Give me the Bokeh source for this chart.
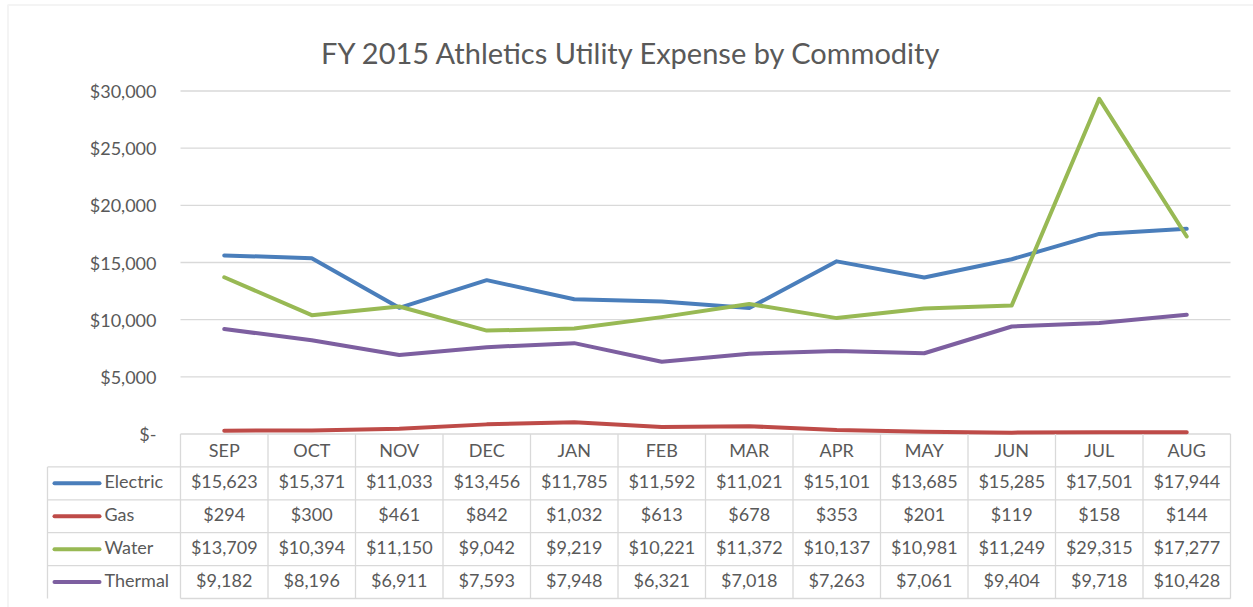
from bokeh.plotting import figure
from bokeh.models import (Range1d, LinearAxis, FixedTicker, BoxAnnotation)
from bokeh.core.properties import value
from bokeh.embed import file_html
from bokeh.resources import INLINE

# ---------------- data ----------------
title = "FY 2015 Athletics Utility Expense by Commodity"
months = ["SEP", "OCT", "NOV", "DEC", "JAN", "FEB", "MAR", "APR", "MAY", "JUN", "JUL", "AUG"]
series_names = ["Electric", "Gas", "Water", "Thermal"]
electric = [15623, 15371, 11033, 13456, 11785, 11592, 11021, 15101, 13685, 15285, 17501, 17944]
gas = [294, 300, 461, 842, 1032, 613, 678, 353, 201, 119, 158, 144]
water = [13709, 10394, 11150, 9042, 9219, 10221, 11372, 10137, 10981, 11249, 29315, 17277]
thermal = [9182, 8196, 6911, 7593, 7948, 6321, 7018, 7263, 7061, 9404, 9718, 10428]
y_ticks = [0, 5000, 10000, 15000, 20000, 25000, 30000]

series = [electric, gas, water, thermal]
colors = ["#4A7EBB", "#BE4B48", "#98B954", "#7D5FA0"]

# ---------------- layout constants (pixels) ----------------
W, H = 1253, 607
COL0_PX, COL_W = 180.0, 87.5          # left edge of first month column, column width
Y0_PX, YTOP_PX = 433.5, 90.5          # pixel rows of $0 and of the top tick
ROW_H = 32.9                          # table row height
LEG_LEFT_PX = 47.0                    # left edge of the table's legend column
TEXT = "#595959"
GRID = "#D9D9D9"
FONT = "Lato"

def px2x(px):
    return (px - COL0_PX) / COL_W - 0.5

def py2y(py):
    return (Y0_PX - py) * y_ticks[-1] / (Y0_PX - YTOP_PX)

def py2r(py):
    return (py - Y0_PX) / ROW_H

n = len(months)
idx = list(range(n))

p = figure(width=W, height=H, output_backend="svg", toolbar_location=None,
           x_axis_location=None, y_axis_location=None,
           x_range=Range1d(px2x(0), px2x(W)), y_range=Range1d(py2y(H), py2y(0)),
           min_border=0, min_border_left=0, min_border_right=0,
           min_border_top=0, min_border_bottom=0)
p.extra_y_ranges = {"table": Range1d(start=py2r(H), end=py2r(0))}
p.outline_line_color = None
p.background_fill_color = "white"
p.border_fill_color = "white"
p.xgrid.visible = False
p.ygrid.visible = False

# outer chart border
p.add_layout(BoxAnnotation(left=px2x(7.5), top=py2y(4.5), right=px2x(W + 10), bottom=py2y(H + 10),
                           fill_alpha=0, line_color=GRID, line_width=2, level="underlay"))

# gridlines from ticks
x_lo, x_hi = -0.5, n - 0.5
p.segment(x0=[x_lo] * len(y_ticks), x1=[x_hi] * len(y_ticks), y0=y_ticks, y1=y_ticks,
          line_color=GRID, line_width=1.3)

# y axis
yax = LinearAxis(ticker=FixedTicker(ticks=y_ticks), fixed_location=x_lo,
                 major_label_overrides={t: ("$-" if t == 0 else f"${t:,}") for t in y_ticks})
yax.axis_line_color = None
yax.major_tick_line_color = None
yax.minor_tick_line_color = None
yax.major_tick_out = 0
yax.major_label_standoff = 24
yax.major_label_text_font = FONT
yax.major_label_text_font_size = "18px"
yax.major_label_text_color = TEXT
p.add_layout(yax, "left")

# month axis (table header)
xax = LinearAxis(ticker=FixedTicker(ticks=idx), fixed_location=0,
                 major_label_overrides={i: m for i, m in zip(idx, months)})
xax.axis_line_color = None
xax.major_tick_line_color = None
xax.minor_tick_line_color = None
xax.major_tick_out = 0
xax.major_label_standoff = 5
xax.major_label_text_font = FONT
xax.major_label_text_font_size = "18px"
xax.major_label_text_color = TEXT
p.add_layout(xax, "below")

# lines
for name, vals, col in zip(series_names, series, colors):
    p.line(idx, vals, line_color=col, line_width=4, line_cap="round", line_join="round")

# table grid
nrows = len(series_names)
leg_x = px2x(LEG_LEFT_PX)
hx0 = [leg_x] * nrows + [x_lo]
hx1 = [x_hi] * (nrows + 1)
hy = [r + 1 for r in range(nrows)] + [nrows + 1]
p.segment(x0=hx0, x1=hx1, y0=hy, y1=hy, line_color=GRID, line_width=1.3, y_range_name="table")
vx = [x_lo + j for j in range(n + 1)] + [leg_x]
vy0 = [0] * (n + 1) + [1]
vy1 = [nrows + 1] * (n + 2)
p.segment(x0=vx, x1=vx, y0=vy0, y1=vy1, line_color=GRID, line_width=1.3, y_range_name="table")

# table values
tx, ty, tt = [], [], []
for r, vals in enumerate(series):
    for i, v in enumerate(vals):
        tx.append(i)
        ty.append(r + 1.5)
        tt.append(f"${v:,}")
p.text(x=tx, y=ty, text=tt, text_align="center", text_baseline="middle", y_offset=-2,
       text_font=value(FONT), text_font_size="18px", text_color=TEXT, y_range_name="table")

# legend keys + names in the table
rows_c = [r + 1.5 for r in range(nrows)]
p.segment(x0=[px2x(54)] * nrows, x1=[px2x(99)] * nrows, y0=rows_c, y1=rows_c,
          line_color=colors, line_width=4, line_cap="round", y_range_name="table")
p.text(x=[px2x(104)] * nrows, y=rows_c, text=series_names, text_align="left",
       text_baseline="middle", y_offset=-2, text_font=value(FONT), text_font_size="18px",
       text_color=TEXT, y_range_name="table")

# title
p.text(x=[px2x(631.5)], y=[py2y(52)], text=[title], text_align="center",
       text_baseline="alphabetic", text_font=value(FONT), text_font_size="29px",
       text_color=TEXT)

open("out.html", "w").write(file_html(p, INLINE))
